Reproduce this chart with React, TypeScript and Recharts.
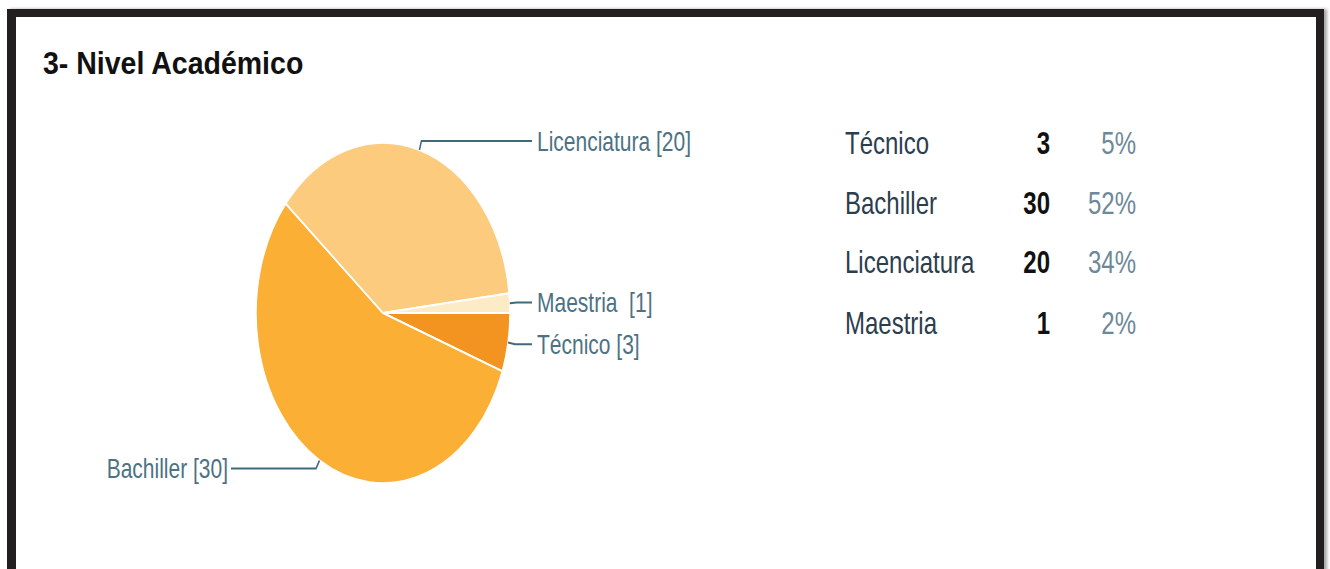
import { PieChart, Pie, Cell } from "recharts";

const categories = ["Técnico", "Bachiller", "Licenciatura", "Maestria"];
const counts = [3, 30, 20, 1];
const percents = ["5%", "52%", "34%", "2%"];
const sliceLabels = ["Técnico [3]", "Bachiller [30]", "Licenciatura [20]", "Maestria  [1]"];
const sliceColors = ["#F39320", "#FBAF35", "#FDCB7D", "#FDEBC6"];

const FONT = '"Liberation Sans", Arial, sans-serif';
const STRETCH = 1.34; // source screenshot was stretched vertically
const RAD = Math.PI / 180;

const data = categories.map((name, i) => ({ name, value: counts[i], label: sliceLabels[i] }));

function renderLabel(props: any) {
  const { cx, cy, midAngle, outerRadius, index } = props;
  const cos = Math.cos(-midAngle * RAD);
  const sin = Math.sin(-midAngle * RAD);
  const sx = cx + outerRadius * cos;
  const sy = cy + outerRadius * sin;
  const mx = cx + (outerRadius + 7) * cos;
  const my = cy + (outerRadius + 7) * sin;
  const right = cos >= 0;
  const ex = right ? cx + outerRadius + 22 : cx - outerRadius - 25;
  return (
    <g key={`lbl-${index}`}>
      <path
        d={`M${sx},${sy}L${mx},${my}L${ex},${my}`}
        stroke="#3f6a7c"
        strokeWidth={1.5}
        fill="none"
      />
      <text
        x={right ? ex + 5 : ex - 3}
        y={my}
        textAnchor={right ? "start" : "end"}
        dominantBaseline="central"
        fill="#4d7283"
        fontSize={21}
        fontFamily={FONT}
        style={{ whiteSpace: "pre" }}
      >
        {data[index].label}
      </text>
    </g>
  );
}

export default function App() {
  const rowTop = 107;
  const rowGap = 44.5;
  return (
    <div style={{ position: "absolute", left: 0, top: 0, width: 1330, height: 569, overflow: "hidden", background: "#fff" }}>
      <div
        style={{
          position: "absolute",
          left: 7,
          top: 9,
          width: 1317,
          height: 700,
          boxSizing: "border-box",
          borderStyle: "solid",
          borderColor: "#231f20",
          borderWidth: "8px 8px 8px 9px",
          boxShadow: "3px 0 3px rgba(0,0,0,0.35)",
        }}
      />
      <div
        style={{
          position: "absolute",
          left: 43,
          top: 47,
          fontFamily: FONT,
          fontWeight: "bold",
          fontSize: 28.5,
          lineHeight: "28px",
          color: "#111",
          whiteSpace: "nowrap",
          transform: "scaleY(1.12)",
          transformOrigin: "0 0",
        }}
      >
        3- Nivel Académico
      </div>
      <div
        style={{
          position: "absolute",
          left: 0,
          top: 0,
          width: 1330,
          height: 569 / STRETCH,
          transform: `scaleY(${STRETCH})`,
          transformOrigin: "0 0",
        }}
      >
        <div style={{ position: "absolute", left: 0, top: 0 }}>
          <PieChart width={760} height={425} margin={{ top: 0, right: 0, bottom: 0, left: 0 }}>
            <Pie
              data={data}
              dataKey="value"
              nameKey="name"
              cx={383}
              cy={233.6}
              outerRadius={127}
              startAngle={0}
              endAngle={-360}
              stroke="#fff"
              strokeWidth={1.5}
              label={renderLabel}
              labelLine={false}
              isAnimationActive={false}
            >
              {data.map((d, i) => (
                <Cell key={d.name} fill={sliceColors[i]} />
              ))}
            </Pie>
          </PieChart>
        </div>
        {categories.map((name, i) => (
          <div
            key={name}
            style={{
              position: "absolute",
              left: 845,
              top: rowTop + i * rowGap - 14,
              height: 28,
              lineHeight: "28px",
              fontFamily: FONT,
              fontSize: 24,
              whiteSpace: "nowrap",
            }}
          >
            <span style={{ position: "absolute", left: 0, color: "#2c3e4e" }}>{name}</span>
            <span style={{ position: "absolute", right: -(1050 - 845), fontWeight: "bold", color: "#111" }}>{counts[i]}</span>
            <span style={{ position: "absolute", right: -(1136 - 845), color: "#6d8898" }}>{percents[i]}</span>
          </div>
        ))}
      </div>
    </div>
  );
}
